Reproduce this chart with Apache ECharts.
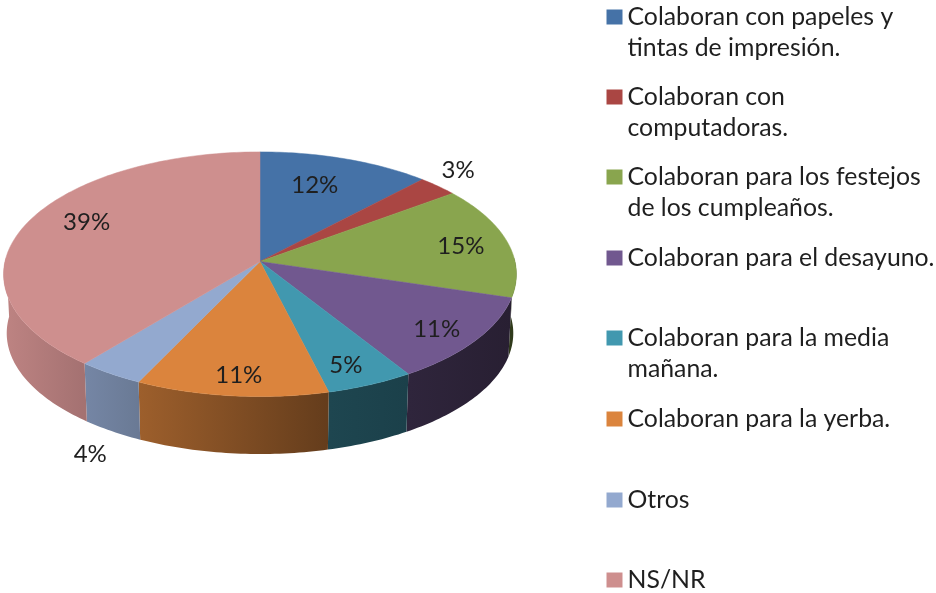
<!DOCTYPE html>
<html><head><meta charset="utf-8">
<style>html,body{margin:0;padding:0;background:#fff}#c{width:936px;height:593px}</style>
<script src="https://cdn.jsdelivr.net/npm/echarts@6/dist/echarts.min.js"></script>
</head><body><div id="c"></div>
<script>
const categories = [
  "Colaboran con papeles y\ntintas de impresión.",
  "Colaboran con\ncomputadoras.",
  "Colaboran para los festejos\nde los cumpleaños.",
  "Colaboran para el desayuno.",
  "Colaboran para la media\nmañana.",
  "Colaboran para la yerba.",
  "Otros",
  "NS/NR"
];
// slice shares; labels show them rounded
const values = [12.0, 2.8, 14.9, 11.4, 5.0, 11.0, 3.8, 39.1];
const colors = ["#4572A7","#AA4643","#89A54E","#71588F","#4198AF","#DB843D","#93A9CF","#CE8F8E"];

// label placement: radial fraction and angle shift (deg) from the slice's middle
const labelRadius = [0.709, 1.175, 0.808, 0.842, 0.849, 0.858, 1.48, 0.779];
const labelShift  = [-2.7, -2.4, 0.9, 1.5, 1.7, -0.7, -9.7, 5.8];
// legend icon centre rows
const legendRows = [17, 97, 177, 258, 338, 419, 500, 580];

const FONT = 'Lato, "Noto Sans", sans-serif';
const FS = 24.8, LABEL_FS = 24, LH = 31;
const PERSP = 0.104;         // perspective of the 3D pie
const WALL = 0.49;           // wall height in y-axis units
const BOTTOM_SCALE = 0.988;  // lower rim is slightly smaller
// wall shading by x-axis position
const shade = [[-1,0.92],[-0.7,0.80],[-0.48,0.72],[0.26,0.46],[0.58,0.42],[1,0.35]];
function shadeAt(x){
  for(let i=1;i<shade.length;i++){
    if(x<=shade[i][0]){const a=shade[i-1],b=shade[i];return a[1]+(b[1]-a[1])*(x-a[0])/(b[0]-a[0]);}
  }
  return shade[shade.length-1][1];
}
function darken(hex,f){
  const n=parseInt(hex.slice(1),16);
  return 'rgb('+[(n>>16)&255,(n>>8)&255,n&255].map(c=>Math.round(c*f)).join(',')+')';
}
const total = values.reduce((a,b)=>a+b,0);
const starts=[]; values.reduce((acc,v,i)=>{starts[i]=acc;return acc+v;},0);

function project(deg,r){
  const a=deg*Math.PI/180, u=r*Math.sin(a), v=-r*Math.cos(a), s=1/(1-PERSP*v);
  return [u*s,v*s];
}
function makeRender(i){
  return function(params,api){
    const a0=starts[i]/total*360, a1=(starts[i]+values[i])/total*360;
    const children=[];
    // wall
    const w0=Math.max(a0,88), w1=Math.min(a1,272);
    if(w1>w0){
      const top=[],bot=[];
      for(let d=w0;;d+=1){
        const dd=Math.min(d,w1);
        top.push(api.coord(project(dd,1)));
        const q=project(dd,BOTTOM_SCALE);
        bot.unshift(api.coord([q[0],q[1]+WALL]));
        if(dd>=w1)break;
      }
      const pa=project(w0,1)[0],pb=project(w1,1)[0];
      const xa=api.coord([pa,0])[0],xb=api.coord([pb,0])[0];
      const lo=Math.min(pa,pb),hi=Math.max(pa,pb);
      const x0=Math.min(xa,xb),x1=Math.max(xa,xb);
      const stops=[];
      const inner=shade.filter(s=>s[0]>lo&&s[0]<hi).map(s=>s[0]);
      [lo].concat(inner,[hi]).forEach(x=>{
        stops.push({offset:hi>lo?(x-lo)/(hi-lo):0,color:darken(colors[i],shadeAt(x))});
      });
      children.push({type:'polygon',z2:1,shape:{points:top.concat(bot)},
        style:{fill:new echarts.graphic.LinearGradient(x0,0,x1,0,stops,true)}});
    }
    // top face
    const pts=[api.coord([0,0])];
    for(let d=a0;;d+=1){
      const dd=Math.min(d,a1);
      pts.push(api.coord(project(dd,1)));
      if(dd>=a1)break;
    }
    children.push({type:'polygon',z2:2,shape:{points:pts},
      style:{fill:colors[i],stroke:colors[i],lineWidth:0.5}});
    // label
    const mid=(a0+a1)/2+labelShift[i];
    const lp=api.coord(project(mid,labelRadius[i]));
    children.push({type:'text',z2:5,silent:true,style:{
      text:Math.round(values[i])+'%',x:lp[0],y:lp[1],align:'center',verticalAlign:'middle',
      fill:'#1f1f1f',font:LABEL_FS+'px '+FONT}});
    return {type:'group',children:children};
  };
}
const series=categories.map((name,i)=>({
  type:'custom',name:name,coordinateSystem:'cartesian2d',
  itemStyle:{color:colors[i]},
  renderItem:makeRender(i),
  encode:{x:0,y:1},
  clip:false,silent:true,
  data:[[0,0,values[i]]],
  z:2
}));
const legends=categories.map((name,i)=>{
  const two=name.indexOf('\n')>=0;
  // a leading empty line keeps the icon level with the first text line
  return {
    show:true,data:[name],left:606.5,top:legendRows[i]-(two?LH*1.5:LH/2),orient:'vertical',
    padding:0,itemWidth:16,itemHeight:15,itemGap:0,icon:'rect',selectedMode:false,
    formatter:two?(n=>'\n'+n):(n=>n),
    textStyle:{fontFamily:FONT,fontSize:FS,lineHeight:LH,color:'#1f1f1f'}
  };
});
const chart=echarts.init(document.getElementById('c'),null,{renderer:'canvas'});
chart.setOption({
  backgroundColor:'#ffffff',animation:false,tooltip:{show:false},
  grid:{left:5,width:510,top:140.5,height:242},
  xAxis:{type:'value',min:-1,max:1,show:false},
  yAxis:{type:'value',min:-1,max:1,inverse:true,show:false},
  legend:legends,
  series:series
});
</script></body></html>
